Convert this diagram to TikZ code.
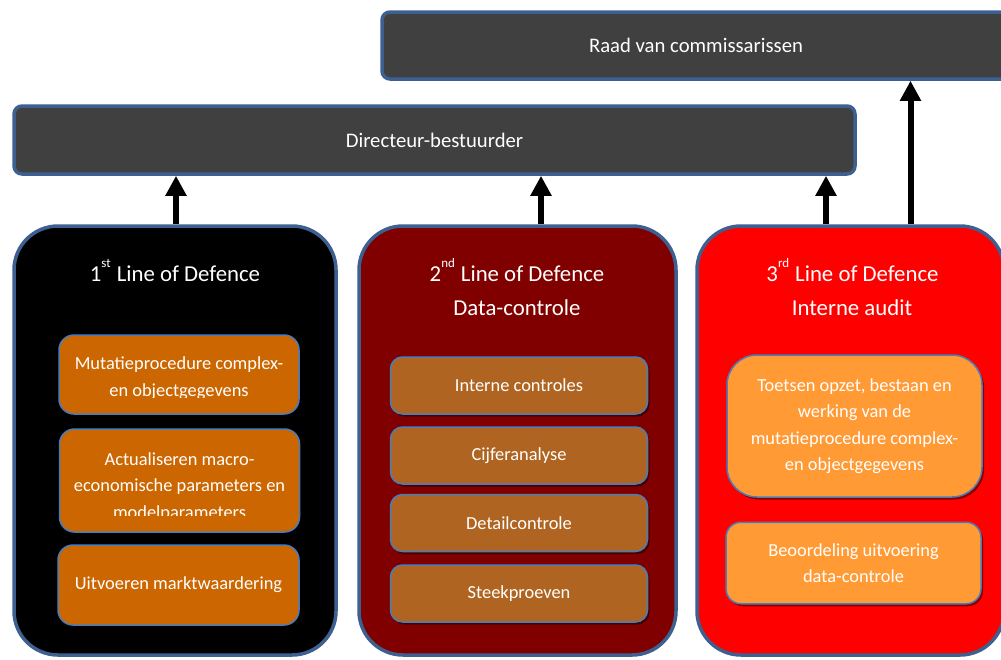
\documentclass[tikz,border=0pt]{standalone}
\usepackage{fontspec}
\setmainfont{Carlito}
\usetikzlibrary{arrows.meta,shadows}
\definecolor{bord}{HTML}{3D6090}
\definecolor{hdrfill}{HTML}{404040}
\definecolor{ibord}{HTML}{4A7EBB}
\definecolor{pone}{HTML}{000000}
\definecolor{ptwo}{HTML}{800000}
\definecolor{pthree}{HTML}{FF0000}
\definecolor{ione}{HTML}{CC6600}
\definecolor{itwo}{HTML}{AF6521}
\definecolor{ithree}{HTML}{FF9A35}
\begin{document}
\begin{tikzpicture}[x=1pt,y=-1pt,
  hdr/.style={draw=bord, line width=3.5pt, fill=hdrfill, rounded corners=8pt, text=white,
    font=\fontsize{20.7}{24}\selectfont, inner sep=0pt},
  panel/.style={draw=bord, line width=3.5pt, rounded corners=44pt, inner sep=0pt},
  ptitle/.style={text=white, font=\fontsize{22.8}{33}\selectfont, inner sep=0pt, anchor=base},
  ibox/.style={draw=ibord, line width=1.5pt, text=white, align=center,
    font=\fontsize{18.4}{26.5}\selectfont, inner sep=0pt},
  shad/.style={drop shadow={shadow xshift=2pt, shadow yshift=-2.5pt, opacity=0.45, fill=black}},
  itext/.style={text=white, align=center, font=\fontsize{18.4}{26.5}\selectfont, inner sep=0pt, anchor=base},
  arr/.style={line width=6pt, -{Triangle[width=20pt,length=20pt]}}]
\useasboundingbox (0,0) rectangle (1001,659);

% header boxes
\node[hdr, minimum width=628pt, minimum height=67pt] (raad) at (696,45.5) {Raad van commissarissen};
\node[hdr, minimum width=841pt, minimum height=68pt] (dir) at (434.5,140) {Directeur-bestuurder};

% panels
\node[panel, fill=pone, minimum width=322pt, minimum height=429pt] (p1) at (175,440.5) {};
\node[panel, fill=ptwo, minimum width=317pt, minimum height=429pt] (p2) at (517.5,440.5) {};
\node[panel, fill=pthree, minimum width=307pt, minimum height=429pt] (p3) at (850.5,440.5) {};

% titles
\node[ptitle] (t1) at (175,281) {1\raisebox{14pt}{\fontsize{13}{13}\selectfont st}\hspace{6pt}Line of Defence};
\node[ptitle] (t2a) at (517,281.5) {2\raisebox{14pt}{\fontsize{13}{13}\selectfont nd}\hspace{6pt}Line of Defence};
\node[ptitle] (t2b) at (517,315) {Data-controle};
\node[ptitle] (t3a) at (852.5,281.5) {3\raisebox{14pt}{\fontsize{13}{13}\selectfont rd}\hspace{6pt}Line of Defence};
\node[ptitle] (t3b) at (852,315) {Interne audit};

% panel 1 boxes
\node[ibox, fill=ione, rounded corners=15pt, minimum width=240pt, minimum height=79pt] (a1) at (179,374.5) {};
\node[ibox, fill=ione, rounded corners=15pt, minimum width=240pt, minimum height=103pt] (a2) at (179.5,480.5) {};
\node[ibox, fill=ione, rounded corners=15pt, minimum width=241pt, minimum height=80pt] (a3) at (178.5,585) {Uitvoeren marktwaardering};
\begin{scope}
  \clip (58,334) rectangle (301,397);
  \node[itext] (a1t) at (179,396) {Mutatieprocedure complex-\\en objectgegevens};
\end{scope}
\begin{scope}
  \clip (58,428) rectangle (301,515.5);
  \node[itext] (a2t) at (179.5,518) {Actualiseren macro-\\economische parameters en\\modelparameters};
\end{scope}

% panel 2 boxes
\node[ibox, shad, fill=itwo, rounded corners=12pt, minimum width=257pt, minimum height=57pt] (b1) at (519,385.5) {Interne controles};
\node[ibox, shad, fill=itwo, rounded corners=12pt, minimum width=257pt, minimum height=57pt] (b2) at (519,455.5) {Cijferanalyse};
\node[ibox, shad, fill=itwo, rounded corners=12pt, minimum width=257pt, minimum height=57pt] (b3) at (519,523) {Detailcontrole};
\node[ibox, shad, fill=itwo, rounded corners=12pt, minimum width=257pt, minimum height=57pt] (b4) at (519,593.5) {Steekproeven};

% panel 3 boxes
\node[ibox, shad, fill=ithree, rounded corners=30pt, minimum width=255pt, minimum height=142pt] (c1) at (854.5,426)
  {Toetsen opzet, bestaan en\\werking van de\\mutatieprocedure complex-\\en objectgegevens};
\node[ibox, shad, fill=ithree, rounded corners=15pt, minimum width=255pt, minimum height=81.5pt] (c2) at (853.5,563)
  {Beoordeling uitvoering\\data-controle};

% arrows
\coordinate (s1) at ([xshift=1pt]p1.north);
\coordinate (s2) at ([xshift=23.5pt]p2.north);
\coordinate (s3) at ([xshift=-24.5pt]p3.north);
\coordinate (s4) at ([xshift=60pt]p3.north);
\draw[arr] (s1) -- (s1 |- dir.south);
\draw[arr] (s2) -- (s2 |- dir.south);
\draw[arr] (s3) -- (s3 |- dir.south);
\draw[arr] (s4) -- (s4 |- raad.south);
\end{tikzpicture}
\end{document}
